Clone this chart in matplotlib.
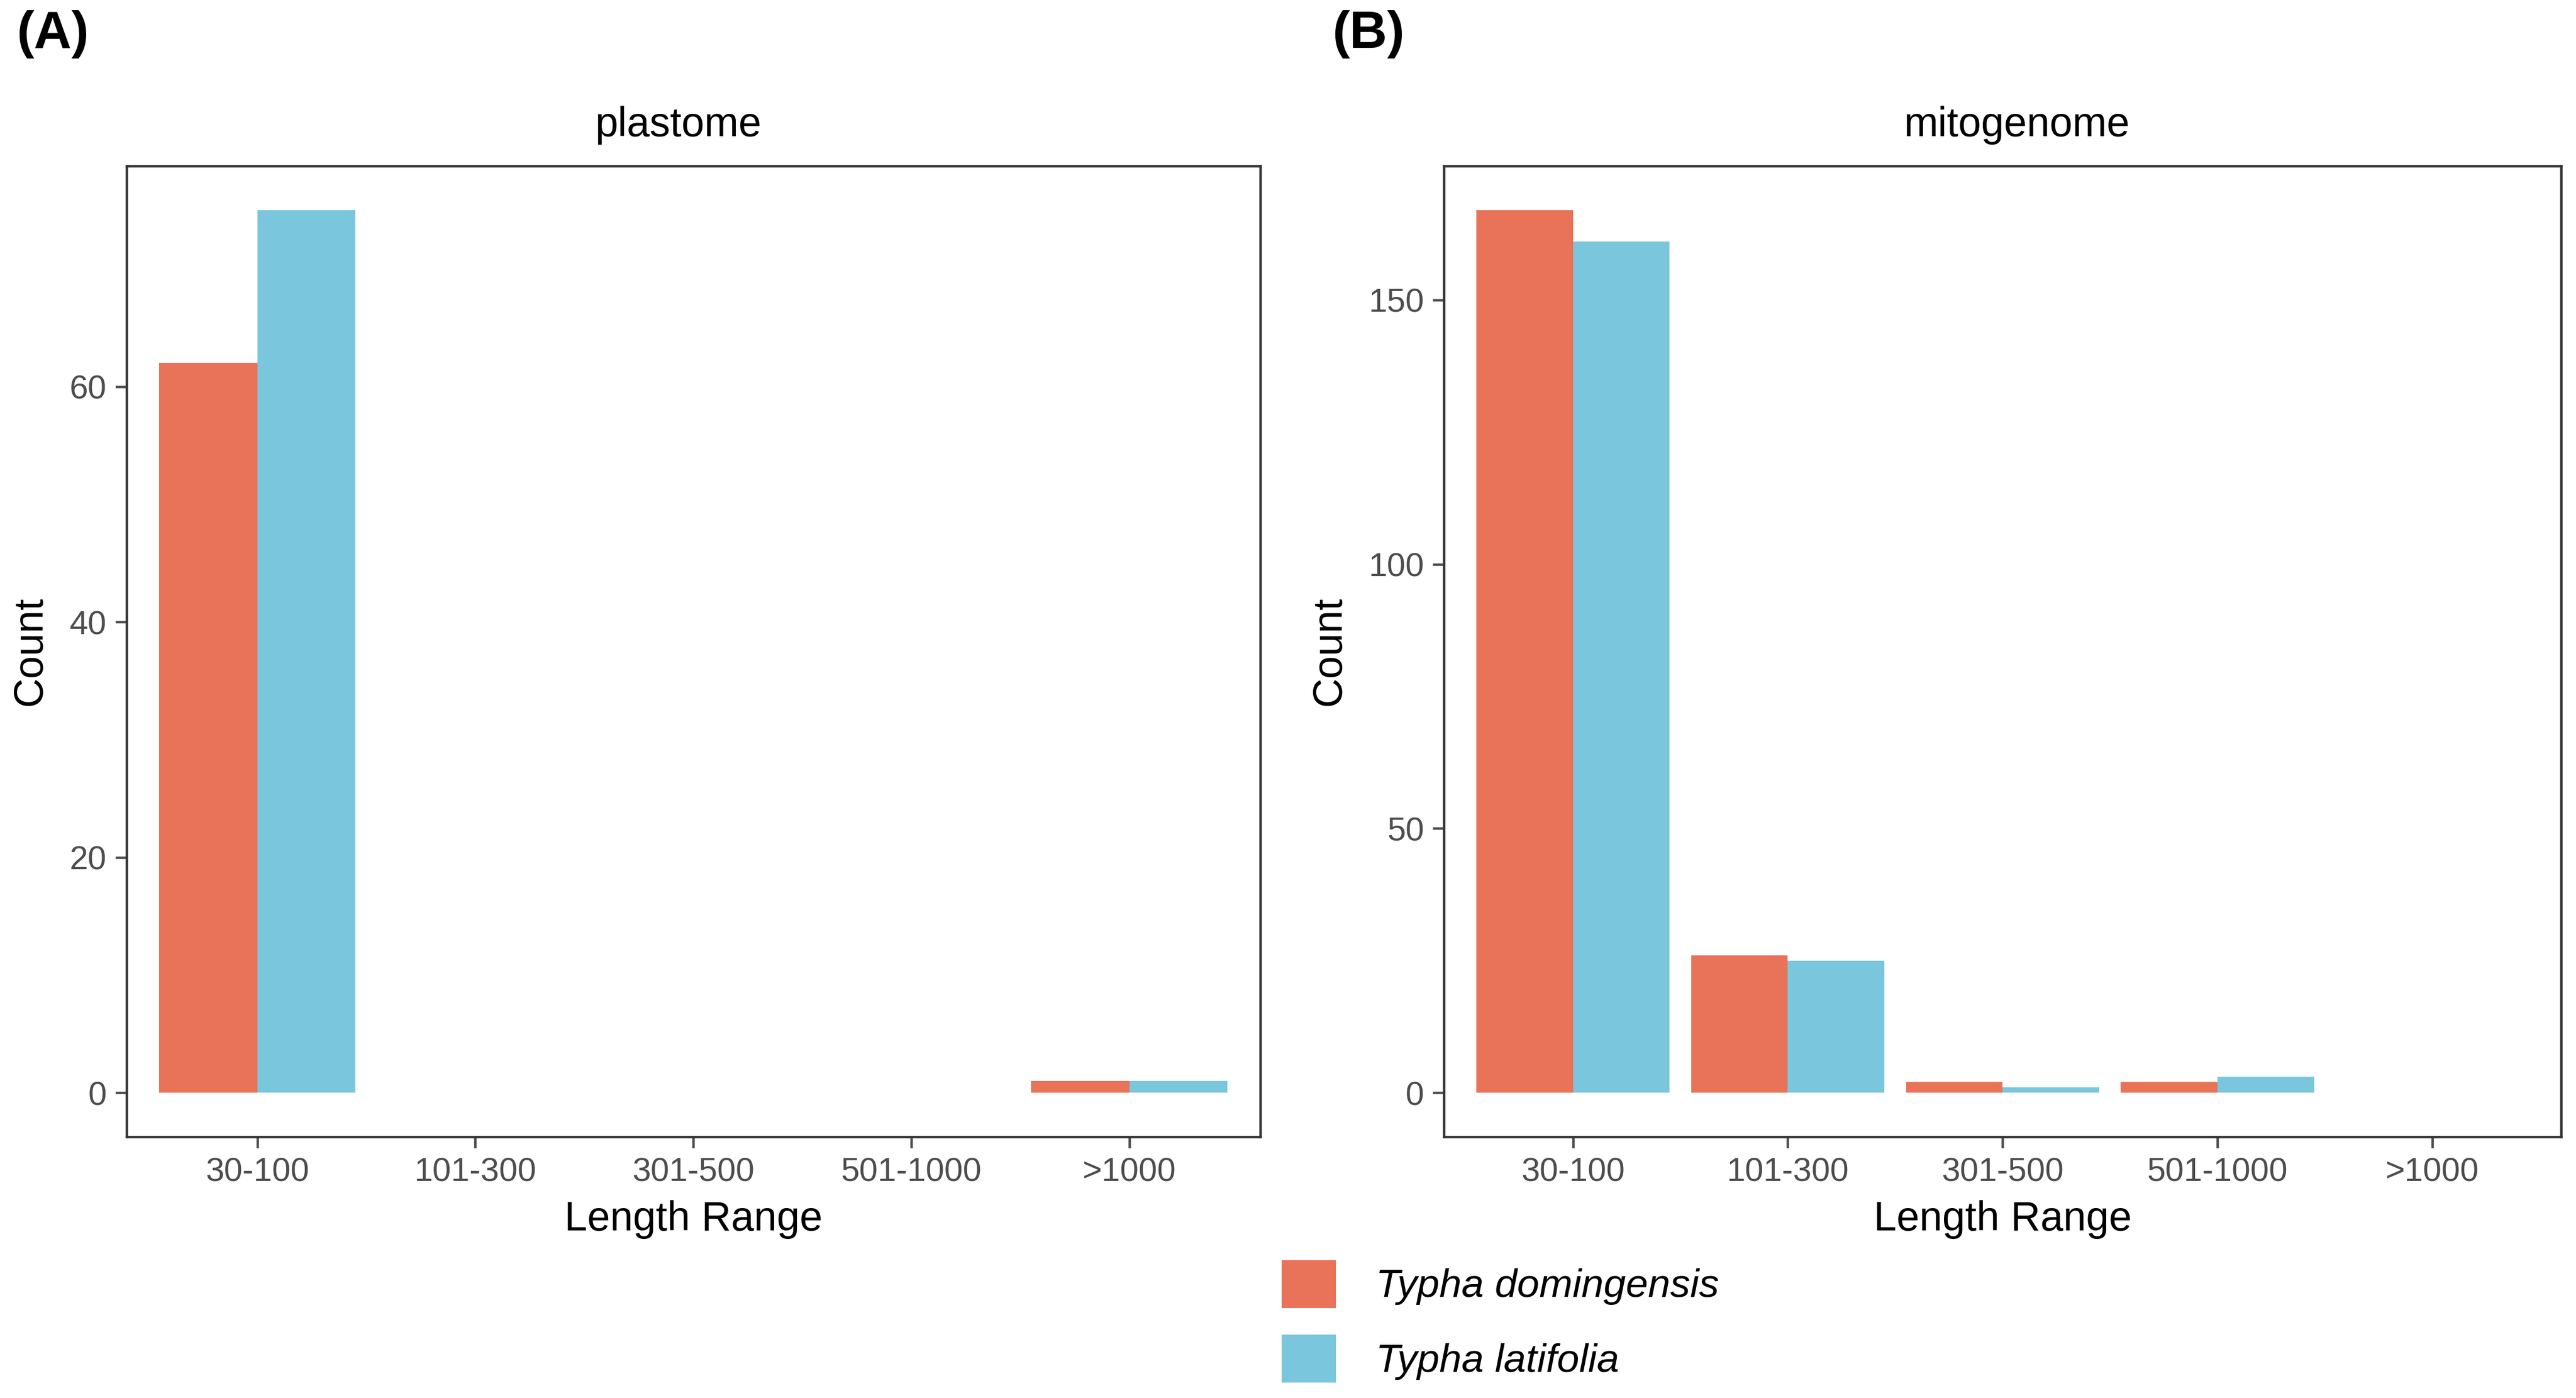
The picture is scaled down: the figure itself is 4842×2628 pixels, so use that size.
import matplotlib
matplotlib.use("Agg")
import matplotlib.pyplot as plt
import numpy as np

plt.rcParams['font.family'] = ['Liberation Sans', 'DejaVu Sans']

categories = ["30-100", "101-300", "301-500", "501-1000", ">1000"]
species = ["Typha domingensis", "Typha latifolia"]
plastome_dom = [62, 0, 0, 0, 1]
plastome_lat = [75, 0, 0, 0, 1]
mito_dom = [167, 26, 2, 2, 0]
mito_lat = [161, 25, 1, 3, 0]
colors = ["#E87358", "#7AC6DC"]

W, H = 1568.0, 851.0
fig = plt.figure(figsize=(4842/300, 2628/300), dpi=300)

def fx(x): return x / W
def fy(y): return 1 - y / H

axA = fig.add_axes([fx(77), fy(692), fx(767) - fx(77), fy(101) - fy(692)])
axB = fig.add_axes([fx(879), fy(692), fx(1559) - fx(879), fy(101) - fy(692)])

tick_color = "#4D4D4D"
border_color = "#333333"

def draw(ax, d, l, title, title_x, ymax_data, yticks):
    x = np.arange(len(categories))
    w = 0.45
    handles = []
    handles.append(ax.bar(x - w/2, d, width=w, color=colors[0], linewidth=0, label=species[0]))
    handles.append(ax.bar(x + w/2, l, width=w, color=colors[1], linewidth=0, label=species[1]))
    ax.set_xlim(-0.6, len(categories) - 1 + 0.6)
    pad = 0.05 * ymax_data
    ax.set_ylim(-pad, ymax_data + pad)
    ax.set_xticks(x)
    ax.set_xticklabels(categories)
    ax.set_yticks(yticks)
    ax.tick_params(axis='both', colors=tick_color, labelcolor=tick_color, labelsize=15,
                   length=5, width=1.1, direction='out', pad=4)
    for s in ax.spines.values():
        s.set_color(border_color)
        s.set_linewidth(1.1)
    ax.set_xlabel("Length Range", fontsize=18.5, color="black", labelpad=5.5)
    ax.set_ylabel("Count", fontsize=18.5, color="black", labelpad=9)
    t = ax.set_title(title, fontsize=18.5, color="black", pad=13.5)
    t.set_x(title_x)
    return handles

hA = draw(axA, plastome_dom, plastome_lat, "plastome", 0.487,
          max(max(plastome_dom), max(plastome_lat)), [0, 20, 40, 60])
hB = draw(axB, mito_dom, mito_lat, "mitogenome", 0.513,
          max(max(mito_dom), max(mito_lat)), [0, 50, 100, 150])

fig.text(fx(10), fy(21), "(A)", fontsize=23.5, fontweight='bold', ha='left', va='center')
fig.text(fx(811), fy(21), "(B)", fontsize=23.5, fontweight='bold', ha='left', va='center')

leg = fig.legend(handles=hB, labels=species, loc='upper left',
                 bbox_to_anchor=(fx(780), fy(767)), frameon=False,
                 fontsize=18, handlelength=1.36, handleheight=1.47,
                 labelspacing=0.67, handletextpad=1.0, borderaxespad=0, borderpad=0)
for t in leg.get_texts():
    t.set_fontstyle('italic')

fig.savefig("out.png", dpi=300, facecolor="white")
